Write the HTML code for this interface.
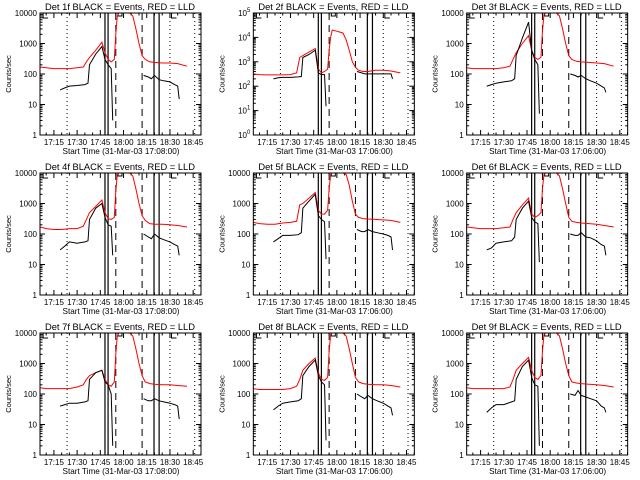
<!DOCTYPE html>
<html><head><meta charset="utf-8"><style>
html,body{margin:0;padding:0;background:#fff;}
svg{display:block;}
text{font-family:"Liberation Sans",sans-serif;fill:#000;}
</style></head><body>
<svg id="c" width="640" height="480" viewBox="0 0 640 480"></svg>
<script>
const panelNames = ["1f","2f","3f","4f","5f","6f","7f","8f","9f"];
const startLabels = ["17:08:00","17:06:00","17:06:00","17:08:00","17:06:00","17:06:00","17:08:00","17:06:00","17:06:00"];
const tickMinutes = [15,30,45,60,75,90,105];
const tickLabels = ["17:15","17:30","17:45","18:00","18:15","18:30","18:45"];
const solidLines = [48,50,79.7,83];
const dashedLines = [55,72];
const dottedLines = [23.5,90,106];
const bracketMinutes = [8,57.7,91];
const redTimes = [6,10,15,20,25,30,34,36,38,42,46,48,50,52,54,55,56,57,60,64,66,68,70,72,74,77,80,85,90,95,101];
const red1 = [170,160,150,150,150,160,170,250,350,600,1100,500,300,250,300,2000,8000,10000,10000,10000,8000,3000,1000,400,300,250,240,230,230,220,180];
const red2 = [320,300,290,290,290,300,350,1500,1800,2500,3500,500,350,400,500,3000,10000,20000,18000,15000,8000,3000,1000,600,450,400,400,450,450,420,350];
const red3 = [160,150,150,150,150,160,180,300,500,1000,1800,600,350,300,350,2500,9000,10000,10000,10000,8000,3000,1000,400,300,260,250,240,230,220,180];
const red4 = [170,150,140,140,150,150,180,300,500,800,1300,500,320,300,350,2500,9000,10000,10000,10000,8000,3000,1000,400,280,220,210,210,200,190,170];
const red5 = [240,220,210,210,230,240,260,900,1000,1500,2300,600,450,450,600,3000,9000,10000,10000,10000,9000,4000,1200,450,350,320,310,300,290,280,240];
const red6 = [170,160,150,150,150,160,170,300,500,900,1500,450,350,400,500,3000,9000,10000,10000,10000,8000,3000,1000,350,260,240,230,220,210,190,170];
const red7 = [160,150,150,150,150,170,200,300,400,500,600,300,200,180,250,2000,8000,10000,10000,10000,8000,3000,1000,400,250,220,210,200,200,190,180];
const red8 = [150,140,140,140,140,150,180,300,600,1000,1500,500,300,280,350,2500,9000,10000,10000,10000,8000,3000,1000,350,250,220,210,200,200,190,170];
const red9 = [160,150,150,150,150,150,170,300,600,1000,1600,600,350,300,400,2500,9000,10000,10000,10000,8000,3000,1000,400,250,230,220,210,200,190,170];
const blackTimesA = [19,22,25,30,35,37,38,42,46,48,50,52,53];
const blackTimesB = [73,76,78,80,83,86,90,93,95,96];
const blackA1 = [30,35,40,42,45,50,200,450,800,300,200,150,3];
const blackB1 = [90,80,70,90,65,60,55,45,40,15];
const blackA2 = [200,220,230,230,240,250,1500,2000,3000,350,300,300,15];
const blackB2 = [400,350,320,320,320,320,320,320,320,200];
const blackA3 = [40,45,50,55,60,70,400,1500,5000,600,300,200,5];
const blackB3 = [100,90,80,90,70,60,50,40,35,25];
const blackA4 = [30,40,55,50,55,60,300,700,1000,350,200,180,20];
const blackB4 = [100,80,70,100,75,65,55,45,40,20];
const blackA5 = [55,70,90,90,95,110,700,1200,2000,400,300,250,15];
const blackB5 = [140,120,120,140,120,110,100,90,80,30];
const blackA6 = [30,35,50,55,60,80,300,700,1200,350,250,220,12];
const blackB6 = [100,90,90,110,80,75,60,45,40,20];
const blackA7 = [40,45,50,50,55,60,300,500,600,250,200,100,2];
const blackB7 = [70,60,60,70,60,55,50,45,40,15];
const blackA8 = [30,40,50,55,60,70,400,800,1300,400,250,200,3];
const blackB8 = [100,80,70,90,70,60,50,40,35,20];
const blackA9 = [25,35,45,45,55,60,300,800,1300,350,200,180,2];
const blackB9 = [100,90,130,90,80,70,60,40,35,25];
const decadesPerPanel = [4,5,4,4,4,4,4,4,4];

const reds=[red1,red2,red3,red4,red5,red6,red7,red8,red9];
const blAs=[blackA1,blackA2,blackA3,blackA4,blackA5,blackA6,blackA7,blackA8,blackA9];
const blBs=[blackB1,blackB2,blackB3,blackB4,blackB5,blackB6,blackB7,blackB8,blackB9];

const NS="http://www.w3.org/2000/svg";
const svg=document.getElementById('c');
function mk(tag,attrs,parent){const e=document.createElementNS(NS,tag);for(const k in attrs)e.setAttribute(k,attrs[k]);(parent||svg).appendChild(e);return e;}
const X0=40,X1=201,Y0=13,Y1=135;
for(let p=0;p<9;p++){
  const col=p%3,row=Math.floor(p/3);
  const g=mk('g',{transform:`translate(${(col*213.33).toFixed(2)},${row*160})`});
  
  
  const dec=decadesPerPanel[p];
  const xs=m=>X0+(m-6)*1.547;
  const ys=v=>Y1-Math.log10(Math.max(v,1e-3))/dec*(Y1-Y0);
  const cp=mk('clipPath',{id:'cp'+p},g);
  mk('rect',{x:X0,y:Y0,width:X1-X0,height:Y1-Y0},cp);
  // title
  const t=mk('text',{x:120,y:10,'text-anchor':'middle','font-size':9,textLength:150,lengthAdjust:'spacingAndGlyphs'},g);
  t.textContent=`Det ${panelNames[p]} BLACK = Events, RED = LLD`;
  
  
  // y ticks
  for(let d=0;d<=dec;d++){
    const y=ys(Math.pow(10,d));
    mk('line',{x1:X0,x2:X0+5,y1:y,y2:y,stroke:'#000','stroke-width':1},g);
    mk('line',{x1:X1,x2:X1-5,y1:y,y2:y,stroke:'#000','stroke-width':1},g);
    if(d<dec){for(let k=2;k<10;k++){const yy=ys(k*Math.pow(10,d));
      mk('line',{x1:X0,x2:X0+2.5,y1:yy,y2:yy,stroke:'#000','stroke-width':1},g);
      mk('line',{x1:X1,x2:X1-2.5,y1:yy,y2:yy,stroke:'#000','stroke-width':1},g);}}
    const lab=mk('text',{x:37,y:y+3,'text-anchor':'end','font-size':8},g);
    
    
    if(dec===5){lab.textContent='10';const s=mk('tspan',{dy:-4,'font-size':6},lab);s.textContent=String(d);}
    else lab.textContent=String(Math.pow(10,d));
  }
  // x ticks
  for(let m=10;m<=110;m+=5){const x=xs(m);const major=(m%15===0);
    mk('line',{x1:x,x2:x,y1:Y1,y2:Y1-(major?5:2.5),stroke:'#000'},g);
    mk('line',{x1:x,x2:x,y1:Y0,y2:Y0+(major?5:2.5),stroke:'#000'},g);}
  tickMinutes.forEach((m,i)=>{const tl=mk('text',{x:xs(m),y:145,'text-anchor':'middle','font-size':8},g);
    tl.textContent=tickLabels[i];
    
    });
  const xt=mk('text',{x:121,y:154,'text-anchor':'middle','font-size':8.5,textLength:117,lengthAdjust:'spacingAndGlyphs'},g);
  xt.textContent=`Start Time (31-Mar-03 ${startLabels[p]})`;
  
  
  const yt=mk('text',{x:0,y:0,'text-anchor':'middle','font-size':7.5,transform:'translate(11,74) rotate(-90)'},g);
  yt.textContent='Counts/sec';
  
  
  // reference lines
  const pg=mk('g',{'clip-path':`url(#cp${p})`},g);
  dottedLines.forEach(m=>mk('line',{x1:xs(m),x2:xs(m),y1:Y0,y2:Y1,stroke:'#000','stroke-dasharray':'1,3'},pg));
  dashedLines.forEach(m=>mk('line',{x1:xs(m),x2:xs(m),y1:Y0,y2:Y1,stroke:'#000','stroke-dasharray':'7,5'},pg));
  solidLines.forEach(m=>mk('line',{x1:xs(m),x2:xs(m),y1:Y0,y2:Y1,stroke:'#000','stroke-width':1.2},pg));
  bracketMinutes.forEach((m,i)=>{const x=xs(m);
    if(i===1){mk('path',{d:`M${x-2},${Y0} v3 h4 v-3`,fill:'none',stroke:'#000'},pg);}
    else mk('path',{d:`M${x},${Y0} v5 h5`,fill:'none',stroke:'#000'},pg);});
  // series
  const pts=(ts,vs)=>ts.map((t,i)=>xs(t).toFixed(1)+','+ys(vs[i]).toFixed(1)).join(' ');
  const r=mk('polyline',{points:pts(redTimes,reds[p]),fill:'none',stroke:'#f00','stroke-width':1},pg);
  
  
  const ba=mk('polyline',{points:pts(blackTimesA,blAs[p]),fill:'none',stroke:'#000','stroke-width':1},pg);
  
  
  const bb=mk('polyline',{points:pts(blackTimesB,blBs[p]),fill:'none',stroke:'#000','stroke-width':1},pg);
  
  
  const box=mk('rect',{x:X0,y:Y0,width:X1-X0,height:Y1-Y0,fill:'none',stroke:'#000','stroke-width':1},g);
  
  
}
</script>
</body></html>
